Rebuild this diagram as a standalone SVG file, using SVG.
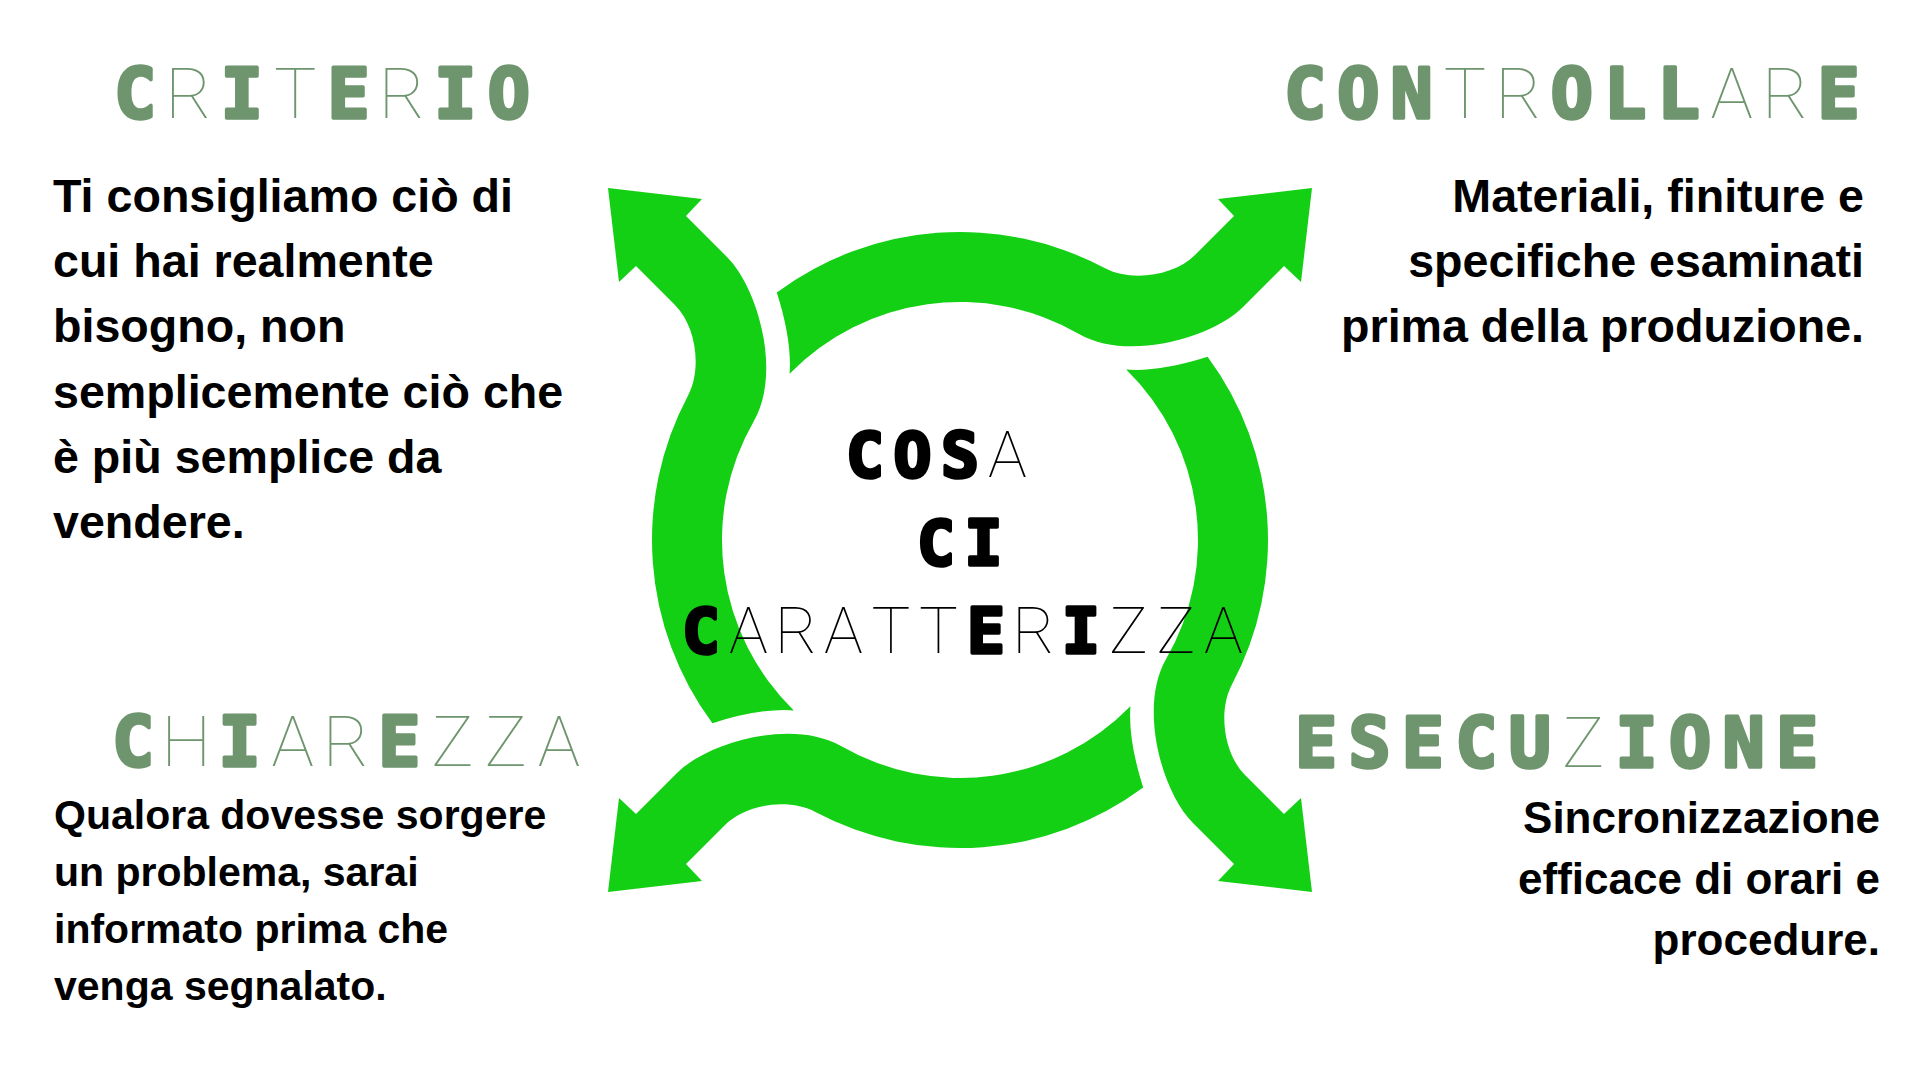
<svg xmlns="http://www.w3.org/2000/svg" xmlns:xlink="http://www.w3.org/1999/xlink" width="1920" height="1080" viewBox="0 0 1920 1080">
<style>
.b{font-family:"DejaVu Sans Mono","Liberation Mono",monospace;font-weight:700;stroke-width:3.5;stroke-linejoin:round}
.t{font-family:"Roboto","Lato","Inter","DejaVu Sans",sans-serif;font-weight:100}
.title{font-size:70px;fill:#6E956E;text-anchor:middle}
.title .b{stroke:#6E956E}
.title .t{font-size:71px}
.center{font-size:63px;fill:#000;text-anchor:middle}
.center .b{stroke:#000}
.center .t{font-size:65px}
.body{font-family:"Liberation Sans",Arial,sans-serif;font-weight:700;fill:#000}
.arrow{fill:#14D014}
</style>
<defs>
<path id="piece" d="M 712.4 723.2 A 308 308 0 0 1 688.05 395.4 C 702.1 368.9 696.2 326.2 675 305 L 636 266 L 619 282 L 608 188 L 702 199 L 686 216 L 727 257 C 758.8 288.8 781.4 373.4 753.9 421 A 238 238 0 0 0 793.8 710.4 Q 760 708 712.4 723.2 Z"/>
</defs>
<rect width="1920" height="1080" fill="#fff"/>
<g id="connectors" class="arrow">
<use xlink:href="#piece"/>
<use xlink:href="#piece" transform="rotate(90 960 540)"/>
<use xlink:href="#piece" transform="rotate(180 960 540)"/>
<use xlink:href="#piece" transform="rotate(270 960 540)"/>
</g>
<g id="center">
<text class="center" y="477"><tspan class="b" x="865">C</tspan><tspan class="b" x="912.5">O</tspan><tspan class="b" x="960">S</tspan><tspan class="t" x="1007.5">A</tspan></text>
<text class="center" y="565"><tspan class="b" x="936">C</tspan><tspan class="b" x="983.5">I</tspan></text>
<text class="center" y="653"><tspan class="b" x="701">C</tspan><tspan class="t" x="748.5">A</tspan><tspan class="t" x="796">R</tspan><tspan class="t" x="843.5">A</tspan><tspan class="t" x="891">T</tspan><tspan class="t" x="938.5">T</tspan><tspan class="b" x="986">E</tspan><tspan class="t" x="1033.5">R</tspan><tspan class="b" x="1081">I</tspan><tspan class="t" x="1128.5">Z</tspan><tspan class="t" x="1176">Z</tspan><tspan class="t" x="1223.5">A</tspan></text>
</g>
<g id="criterio">
<text class="title" y="118"><tspan class="b" x="135">C</tspan><tspan class="t" x="188.4">R</tspan><tspan class="b" x="241.8">I</tspan><tspan class="t" x="295.2">T</tspan><tspan class="b" x="348.6">E</tspan><tspan class="t" x="402">R</tspan><tspan class="b" x="455.4">I</tspan><tspan class="b" x="508.8">O</tspan></text>
<text class="body" font-size="46.6"><tspan x="53" y="212">Ti consigliamo ciò di</tspan><tspan x="53" y="277">cui hai realmente</tspan><tspan x="53" y="342">bisogno, non</tspan><tspan x="53" y="408">semplicemente ciò che</tspan><tspan x="53" y="473">è più semplice da</tspan><tspan x="53" y="538">vendere.</tspan></text>
</g>
<g id="controllare">
<text class="title" y="118"><tspan class="b" x="1305">C</tspan><tspan class="b" x="1358.4">O</tspan><tspan class="b" x="1411.7">N</tspan><tspan class="t" x="1465">T</tspan><tspan class="t" x="1518.4">R</tspan><tspan class="b" x="1571.8">O</tspan><tspan class="b" x="1625.1">L</tspan><tspan class="b" x="1678.5">L</tspan><tspan class="t" x="1731.8">A</tspan><tspan class="t" x="1785.2">R</tspan><tspan class="b" x="1838.5">E</tspan></text>
<text class="body" font-size="46.6" text-anchor="end"><tspan x="1864" y="212">Materiali, finiture e</tspan><tspan x="1864" y="277">specifiche esaminati</tspan><tspan x="1864" y="342">prima della produzione.</tspan></text>
</g>
<g id="chiarezza">
<text class="title" y="766"><tspan class="b" x="133">C</tspan><tspan class="t" x="186.3">H</tspan><tspan class="b" x="239.5">I</tspan><tspan class="t" x="292.8">A</tspan><tspan class="t" x="346">R</tspan><tspan class="b" x="399.3">E</tspan><tspan class="t" x="452.5">Z</tspan><tspan class="t" x="505.8">Z</tspan><tspan class="t" x="559">A</tspan></text>
<text class="body" font-size="41"><tspan x="54" y="829">Qualora dovesse sorgere</tspan><tspan x="54" y="886">un problema, sarai</tspan><tspan x="54" y="943">informato prima che</tspan><tspan x="54" y="1000">venga segnalato.</tspan></text>
</g>
<g id="esecuzione">
<text class="title" y="767"><tspan class="b" x="1316">E</tspan><tspan class="b" x="1369.5">S</tspan><tspan class="b" x="1422.9">E</tspan><tspan class="b" x="1476.4">C</tspan><tspan class="b" x="1529.8">U</tspan><tspan class="t" x="1583.3">Z</tspan><tspan class="b" x="1636.7">I</tspan><tspan class="b" x="1690.2">O</tspan><tspan class="b" x="1743.6">N</tspan><tspan class="b" x="1797">E</tspan></text>
<text class="body" font-size="44" text-anchor="end"><tspan x="1880" y="833">Sincronizzazione</tspan><tspan x="1880" y="894">efficace di orari e</tspan><tspan x="1880" y="955">procedure.</tspan></text>
</g>
</svg>
